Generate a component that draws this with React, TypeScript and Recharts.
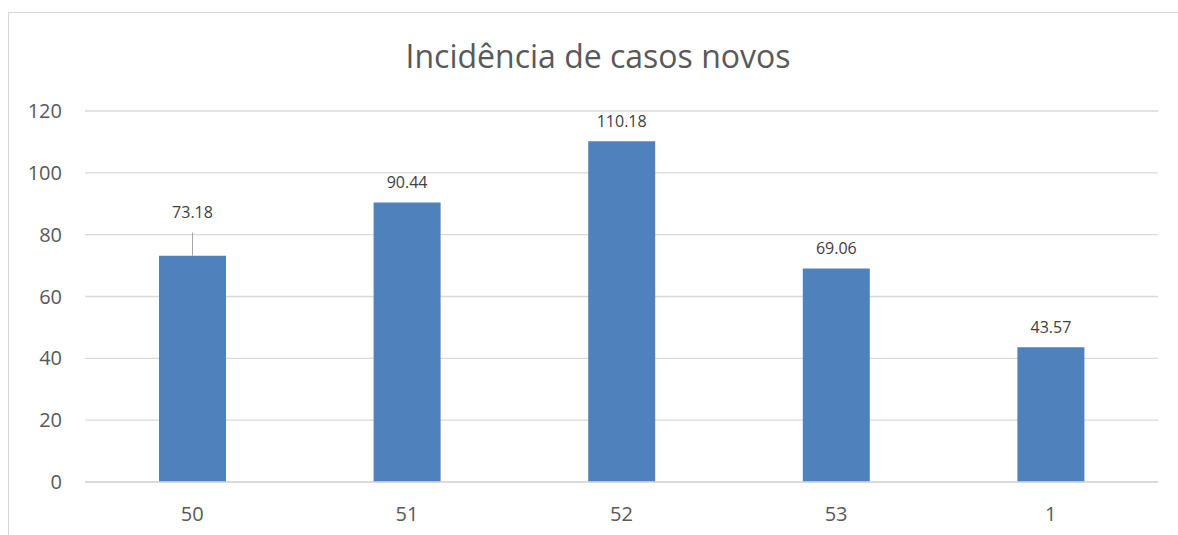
import React from 'react';
import { BarChart, Bar, XAxis, YAxis, CartesianGrid, LabelList } from 'recharts';

const weeks = ['50', '51', '52', '53', '1'];
const incidence = [73.18, 90.44, 110.18, 69.06, 43.57];
const yTicks = [0, 20, 40, 60, 80, 100, 120];

const data = weeks.map((week, i) => ({ week, value: incidence[i] }));

const textColor = '#595959';
const gridColor = '#d9d9d9';
const barColor = '#4f81bd';
const font = '"Open Sans", sans-serif';

// the first label sits higher with a leader line, like the original
const renderLabel = (props: any) => {
  const { x, y, width, value, index } = props;
  const cx = x + width / 2;
  const lift = index === 0 ? 24 : 0;
  return (
    <g>
      {lift > 0 && <line x1={cx} x2={cx} y1={y - lift + 1} y2={y} stroke="#a6a6a6" strokeWidth={1} />}
      <text x={cx} y={y - 14 - lift} textAnchor="middle" fill="#404040" fontSize={16} fontFamily={font}>
        {value.toFixed(2)}
      </text>
    </g>
  );
};

const App: React.FC = () => {
  return (
    <div style={{ position: 'absolute', left: 0, top: 0, width: 1178, height: 535, overflow: 'hidden', background: '#fff' }}>
      <div style={{ position: 'absolute', left: 8, top: 12, width: 1300, height: 700, border: `1px solid ${gridColor}` }} />
      <div style={{ position: 'absolute', left: 0, top: 34, width: 1196, textAlign: 'center', fontFamily: font, fontSize: 32, color: textColor }}>
        Incidência de casos novos
      </div>
      <div style={{ position: 'absolute', left: 0, top: 0 }}>
        <BarChart width={1178} height={535} data={data} margin={{ top: 111, right: 20, bottom: 0, left: 0 }} barCategoryGap={0}>
          <CartesianGrid vertical={false} stroke={gridColor} strokeWidth={1.3} />
          <XAxis
            dataKey="week"
            height={53}
            axisLine={{ stroke: gridColor, strokeWidth: 1.3 }}
            tickLine={false}
            tickSize={0}
            tickMargin={25}
            tick={{ fill: textColor, fontSize: 20, fontFamily: font }}
          />
          <YAxis
            width={85}
            domain={[0, 120]}
            ticks={yTicks}
            axisLine={false}
            tickLine={false}
            tickSize={0}
            tickMargin={23}
            tick={{ fill: textColor, fontSize: 20, fontFamily: font }}
          />
          <Bar dataKey="value" fill={barColor} barSize={67} isAnimationActive={false}>
            <LabelList dataKey="value" content={renderLabel} />
          </Bar>
        </BarChart>
      </div>
    </div>
  );
};

export default App;
